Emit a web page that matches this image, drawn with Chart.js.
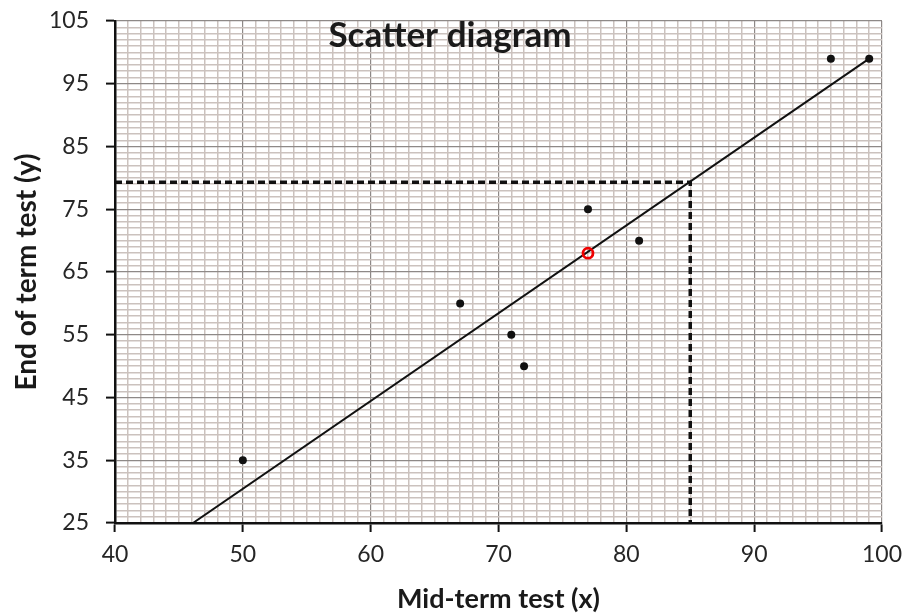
<!DOCTYPE html>
<html>
<head>
<meta charset="utf-8">
<script src="https://cdn.jsdelivr.net/npm/chart.js@4.4.0/dist/chart.umd.min.js"></script>
<style>
  html, body { margin: 0; padding: 0; background: #fff; }
  #wrap { width: 904px; height: 615px; }
</style>
</head>
<body>
<div id="wrap"><canvas id="grafico"></canvas></div>
<script>
// dados
const midTerm = [50, 67, 71, 72, 77, 81, 96, 99];
const endTerm = [35, 60, 55, 50, 75, 70, 99, 99];
const mediaX = [77];
const mediaY = [68];
const retaX = [46.1, 99];
const retaY = [25, 99];
const leituraX = [40, 85, 85];
const leituraY = [79.3, 79.3, 25];
const xTicks = [40, 50, 60, 70, 80, 90, 100];
const yTicks = [25, 35, 45, 55, 65, 75, 85, 95, 105];

const fonte = "Lato, 'Open Sans', sans-serif";
const corTexto = '#262626';

const pontos = midTerm.map((x, i) => ({ x: x, y: endTerm[i] }));
const media = mediaX.map((x, i) => ({ x: x, y: mediaY[i] }));
const reta = retaX.map((x, i) => ({ x: x, y: retaY[i] }));
const leitura = leituraX.map((x, i) => ({ x: x, y: leituraY[i] }));

// linhas finas a cada 1 unidade, rótulos só nos valores principais
function ticksMenores(lista) {
  return function (scale) {
    const t = [];
    for (let v = lista[0]; v <= lista[lista.length - 1]; v++) t.push({ value: v });
    scale.ticks = t;
  };
}
function ehMaior(lista, v) { return lista.indexOf(v) !== -1; }

const tituloPlugin = {
  id: 'tituloDentro',
  afterDatasetsDraw(chart) {
    const c = chart.ctx;
    c.save();
    c.font = "bold 35px " + fonte;
    c.fillStyle = '#1a1a1a';
    c.textAlign = 'center';
    c.textBaseline = 'middle';
    c.fillText('Scatter diagram', 450, 36);
    c.restore();
  }
};

const ctx = document.getElementById("grafico").getContext("2d");
let chart = new Chart(ctx, {
  type: 'scatter',
  data: {
    datasets: [
      {
        label: 'media',
        data: media,
        pointRadius: 5,
        pointBorderWidth: 2.8,
        pointBorderColor: '#ee0000',
        pointBackgroundColor: 'rgba(0,0,0,0)'
      },
      {
        label: 'pontos',
        data: pontos,
        pointRadius: 4,
        pointBackgroundColor: '#111',
        pointBorderColor: '#111',
        borderWidth: 0
      },
      {
        label: 'reta',
        data: reta,
        showLine: true,
        borderColor: '#111',
        borderWidth: 2,
        pointRadius: 0
      },
      {
        label: 'leitura',
        data: leitura,
        showLine: true,
        borderColor: '#111',
        borderWidth: 3.5,
        borderDash: [7, 4],
        pointRadius: 0
      }
    ]
  },
  options: {
    responsive: true,
    maintainAspectRatio: false,
    animation: false,
    layout: { padding: { left: 0, right: 22, top: 21, bottom: 0 } },
    plugins: {
      legend: { display: false },
      tooltip: { enabled: false }
    },
    scales: {
      x: {
        type: 'linear',
        min: 40,
        max: 100,
        afterBuildTicks: ticksMenores(xTicks),
        afterFit: (s) => { s.height = 92; s.paddingLeft = 0; s.paddingRight = 0; },
        ticks: {
          autoSkip: false,
          maxRotation: 0,
          padding: 9,
          color: corTexto,
          font: { family: fonte, size: 23 },
          callback: (v) => ehMaior(xTicks, v) ? String(v) : ''
        },
        grid: {
          color: (c) => ehMaior(xTicks, c.tick.value) ? '#8e8987' : '#cbc2be',
          lineWidth: (c) => ehMaior(xTicks, c.tick.value) ? 1.2 : 1.5,
          tickLength: 9,
          tickWidth: 2,
          tickColor: (c) => ehMaior(xTicks, c.tick.value) ? '#111' : 'rgba(0,0,0,0)'
        },
        border: { color: '#111', width: 2.5 },
        title: {
          display: true,
          text: 'Mid-term test (x)',
          color: '#1a1a1a',
          font: { family: fonte, size: 27, weight: 'bold' },
          padding: { top: 0, bottom: 0 }
        }
      },
      y: {
        type: 'linear',
        min: 25,
        max: 105,
        afterBuildTicks: ticksMenores(yTicks),
        afterFit: (s) => { s.width = 115; s.paddingTop = 0; s.paddingBottom = 0; },
        ticks: {
          autoSkip: false,
          padding: 17,
          color: corTexto,
          font: { family: fonte, size: 23 },
          callback: (v) => ehMaior(yTicks, v) ? String(v) : ''
        },
        grid: {
          color: (c) => ehMaior(yTicks, c.tick.value) ? '#8e8987' : '#cbc2be',
          lineWidth: (c) => ehMaior(yTicks, c.tick.value) ? 1.2 : 1.4,
          tickLength: 9,
          tickWidth: 2,
          tickColor: (c) => ehMaior(yTicks, c.tick.value) ? '#111' : 'rgba(0,0,0,0)'
        },
        border: { color: '#111', width: 2.5 },
        title: {
          display: true,
          text: 'End of term test (y)',
          color: '#1a1a1a',
          font: { family: fonte, size: 28, weight: 'bold' },
          padding: { top: 10, bottom: 0 }
        }
      }
    }
  },
  plugins: [tituloPlugin]
});
</script>
</body>
</html>
